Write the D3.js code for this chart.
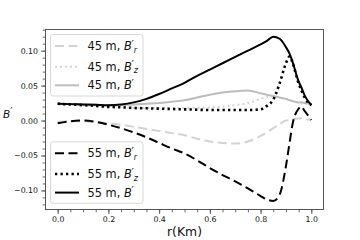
<!DOCTYPE html>
<html><head><meta charset="utf-8">
<script src="https://cdn.jsdelivr.net/npm/d3@7"></script>
<style>
html,body{margin:0;padding:0;background:#fff;}
text{font-family:"DejaVu Sans",sans-serif;}
</style></head>
<body><svg id="c" width="360" height="240"></svg>
<script>
const r = [0,0.05,0.1,0.15,0.2,0.25,0.3,0.35,0.4,0.45,0.5,0.55,0.6,0.65,0.7,0.75,0.8,0.825,0.85,0.875,0.9,0.915,0.925,0.95,0.96,0.975,1.0];
const br45 = [-0.002,-0.001,-0.001,-0.002,-0.004,-0.006,-0.009,-0.012,-0.015,-0.018,-0.021,-0.026,-0.030,-0.032,-0.033,-0.030,-0.022,-0.017,-0.011,-0.005,0.000,0.001,0.002,0.003,0.003,0.002,0.001];
const bz45 = [0.024,0.023,0.022,0.021,0.020,0.019,0.018,0.018,0.018,0.018,0.018,0.018,0.019,0.020,0.022,0.025,0.031,0.034,0.035,0.033,0.031,0.029,0.028,0.026,0.026,0.025,0.023];
const b45  = [0.024,0.0235,0.023,0.0225,0.022,0.022,0.023,0.024,0.025,0.027,0.029,0.033,0.037,0.040,0.042,0.043,0.039,0.037,0.035,0.033,0.031,0.029,0.028,0.026,0.026,0.025,0.023];
const br55 = [-0.004,-0.001,0.000,-0.002,-0.006,-0.011,-0.017,-0.024,-0.032,-0.040,-0.047,-0.057,-0.068,-0.078,-0.087,-0.097,-0.108,-0.113,-0.115,-0.106,-0.065,-0.030,-0.007,0.017,0.020,0.013,0.001];
const bz55 = [0.024,0.023,0.022,0.021,0.0195,0.019,0.018,0.0175,0.017,0.0165,0.016,0.0155,0.015,0.015,0.015,0.015,0.016,0.021,0.030,0.053,0.082,0.092,0.084,0.053,0.044,0.032,0.022];
const b55  = [0.024,0.0235,0.023,0.0225,0.022,0.023,0.026,0.031,0.038,0.046,0.054,0.064,0.073,0.082,0.091,0.100,0.109,0.114,0.120,0.117,0.105,0.095,0.085,0.056,0.048,0.035,0.022];
const xTicks = [0,0.2,0.4,0.6,0.8,1.0];
const yTicks = [-0.10,-0.05,0,0.05,0.10];
const legend45 = ["45 m, ", "45 m, ", "45 m, "];
const legend55 = ["55 m, ", "55 m, ", "55 m, "];
const subs = ["r","z",""];

const svg = d3.select("#c");
const L=45, R=324, T=29, B=210;
const x = d3.scaleLinear().domain([-0.05,1.05]).range([L,R]);
const y = d3.scaleLinear().domain([-0.128,0.131]).range([B,T]);

const series = [
  {v:br45, color:"#d3d3d3", dash:"9,4.5", w:2},
  {v:bz45, color:"#d3d3d3", dash:"2,3", w:2},
  {v:b45,  color:"#bdbdbd", dash:null, w:2},
  {v:br55, color:"#000", dash:"9,4.5", w:2},
  {v:bz55, color:"#000", dash:"2.3,3.2", w:2.6},
  {v:b55,  color:"#000", dash:null, w:2},
];
const line = d3.line().x((d,i)=>x(r[i])).y(d=>y(d)).curve(d3.curveMonotoneX);
series.forEach(s=>{
  svg.append("path").attr("d", line(s.v)).attr("fill","none")
    .attr("stroke", s.color).attr("stroke-width", s.w)
    .attr("stroke-dasharray", s.dash).attr("stroke-linecap","butt");
});

// axes
const axCol = "#555";
const gx = svg.append("g").attr("transform",`translate(0,${B})`)
  .call(d3.axisBottom(x).tickValues(xTicks).tickFormat(d3.format(".1f")).tickSizeInner(4).tickSizeOuter(0).tickPadding(2));
const gxm = svg.append("g").attr("transform",`translate(0,${B})`)
  .call(d3.axisBottom(x).tickValues(d3.range(0,1.0001,0.05)).tickFormat("").tickSizeInner(2.3).tickSizeOuter(0));
const gy = svg.append("g").attr("transform",`translate(${L},0)`)
  .call(d3.axisLeft(y).tickValues(yTicks).tickFormat(d3.format(".2f")).tickSizeInner(4).tickSizeOuter(0).tickPadding(3));
const gym = svg.append("g").attr("transform",`translate(${L},0)`)
  .call(d3.axisLeft(y).tickValues(d3.range(-0.12,0.1301,0.01)).tickFormat("").tickSizeInner(2.3).tickSizeOuter(0));
[gx,gxm,gy,gym].forEach(g=>{
  g.select(".domain").remove();
  g.selectAll("line").attr("stroke",axCol).attr("stroke-width",0.9);
  g.selectAll("text").attr("font-size",7.8).attr("fill","#111").attr("font-family","DejaVu Sans");
});
svg.append("rect").attr("x",L+0.5).attr("y",T+0.5).attr("width",R-L-1).attr("height",B-T-1)
  .attr("fill","none").attr("stroke",axCol).attr("stroke-width",1);

// labels
svg.append("text").attr("x",(L+R)/2).attr("y",236).attr("text-anchor","middle")
  .attr("font-size",12.4).attr("fill","#111").text("r(Km)");
const yl = svg.append("text").attr("x",3).attr("y",117.5).attr("font-size",10.5).attr("fill","#111");
yl.append("tspan").attr("font-style","italic").text("B");
yl.append("tspan").attr("dy",-3).attr("font-size",10).text("′");

// legends
function drawLegend(top, labels, sers){
  svg.append("rect").attr("x",50.5).attr("y",top+0.5).attr("width",92.5).attr("height",61.5)
    .attr("rx",2.5).attr("fill","#fff").attr("fill-opacity",0.8).attr("stroke","#d8d8d8").attr("stroke-width",1);
  const offs=[12,32.7,51.3];
  labels.forEach((lab,i)=>{
    const hy = top+offs[i];
    const s = sers[i];
    svg.append("line").attr("x1",55).attr("x2",79).attr("y1",hy).attr("y2",hy)
      .attr("stroke",s.color).attr("stroke-width",s.w).attr("stroke-dasharray",s.dash);
    const by = hy+4;
    const t = svg.append("text").attr("x",87.5).attr("y",by).attr("font-size",11.4).attr("fill","#111");
    t.append("tspan").text(lab);
    t.append("tspan").attr("font-style","italic").text("B");
    t.append("tspan").attr("dx",-0.2).attr("dy",-2.5).attr("font-size",10.5).text("′");
    if(subs[i]) t.append("tspan").attr("dx",-0.3).attr("dy",5.1).attr("font-size",8)
      .attr("font-style","italic").text(subs[i]);
  });
}
drawLegend(34, legend45, series.slice(0,3));
drawLegend(141.3, legend55, series.slice(3,6));
</script></body></html>
